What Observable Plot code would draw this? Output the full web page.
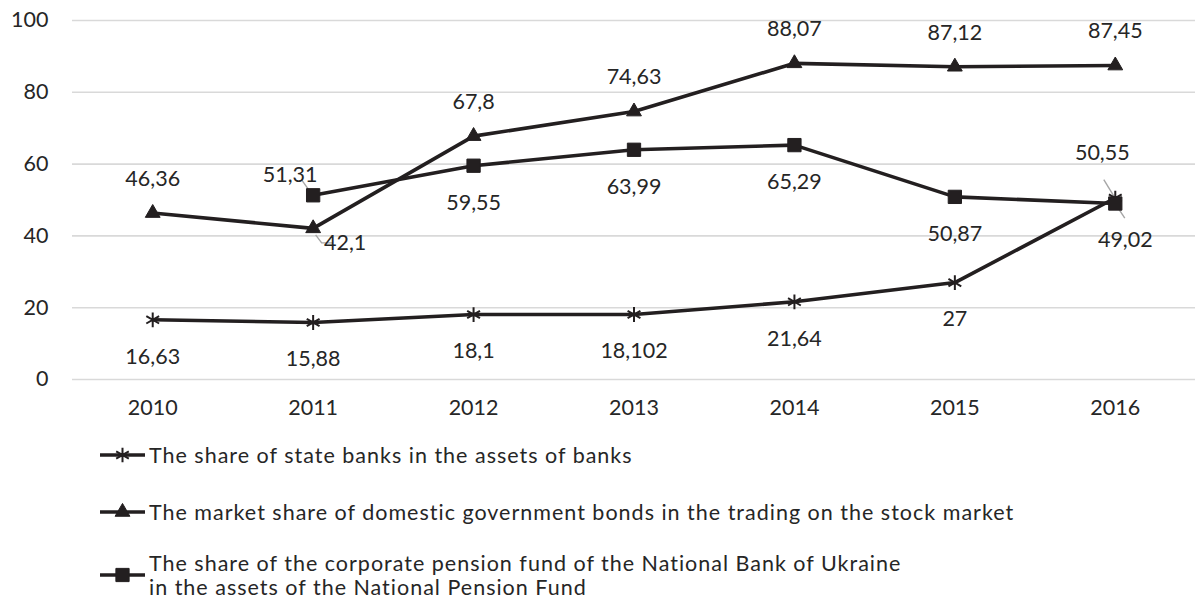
<!DOCTYPE html>
<html>
<head>
<meta charset="utf-8">
<script src="https://cdn.jsdelivr.net/npm/d3@7"></script>
<script src="https://cdn.jsdelivr.net/npm/@observablehq/plot@0.6"></script>
<style>
  body { margin: 0; background: #fff; font-family: Lato, "Open Sans", sans-serif; color: #262626; }
  #wrap { position: relative; width: 1195px; height: 601px; }
  #legend { position: absolute; left: 0; top: 430px; width: 1195px; height: 171px; }
  .item { position: absolute; left: 100px; display: flex; align-items: center; transform: translateY(-50%); font-size: 21.5px; line-height: 24px; letter-spacing: 1px; white-space: nowrap; }
  .item svg { flex: none; margin-right: 2px; }
</style>
</head>
<body>
<div id="wrap">
  <div id="chart"></div>
  <div id="legend"></div>
</div>
<script>
// ---- data ----
const years = [2010, 2011, 2012, 2013, 2014, 2015, 2016];
const stateBanks = [16.63, 15.88, 18.1, 18.102, 21.64, 27, 50.55];
const govBonds = [46.36, 42.1, 67.8, 74.63, 88.07, 87.12, 87.45];
const pensionFund = [null, 51.31, 59.55, 63.99, 65.29, 50.87, 49.02];
const yTicks = [0, 20, 40, 60, 80, 100];
const seriesNames = [
  "The share of state banks in the assets of banks",
  "The market share of domestic government bonds in the trading on the stock market",
  "The share of the corporate pension fund of the National Bank of Ukraine\nin the assets of the National Pension Fund"
];
const seriesKeys = ["stars", "tri", "sq"];
const seriesValues = [stateBanks, govBonds, pensionFund];

// ---- build table ----
const rows = [];
seriesKeys.forEach((k, i) => {
  years.forEach((yr, j) => {
    const v = seriesValues[i][j];
    if (v != null) rows.push({series: k, year: yr, value: v, label: String(v).replace(".", ",")});
  });
});

// label placement (pixel offsets, layout only)
const defaultOffset = {stars: [0, 37], tri: [0, -34], sq: [0, 37]};
const specialOffset = {"stars-2016": [-13, -45], "tri-2011": [32, 15], "sq-2011": [-23, -20], "sq-2016": [10, 37]};
rows.forEach(d => {
  const o = specialOffset[d.series + "-" + d.year] || defaultOffset[d.series];
  d.dx = o[0]; d.dy = o[1];
});
const groups = d3.groups(rows, d => d.dx + "," + d.dy);

// leader lines (pixel offsets relative to the point)
const leaders = [
  {series: "sq", year: 2011, pts: [[-11, -15], [-1, -1]]},
  {series: "tri", year: 2011, pts: [[3, 7], [9, 15], [20, 15]]},
  {series: "stars", year: 2016, pts: [[-11, -18], [0, 0]]},
  {series: "sq", year: 2016, pts: [[0, 0], [10, 15]]}
];
leaders.forEach(L => { L.value = rows.find(d => d.series === L.series && d.year === L.year).value; });

const ink = "#231f20";

const leaderMark = (index, scales) => {
  const g = d3.create("svg:g");
  for (const L of leaders) {
    const px = scales.x(L.year), py = scales.y(L.value);
    g.append("path")
      .attr("d", d3.line()(L.pts.map(([a, b]) => [px + a, py + b])))
      .attr("fill", "none")
      .attr("stroke", "#a6a6a6")
      .attr("stroke-width", 1.4);
  }
  return g.node();
};

const chart = Plot.plot({
  width: 1195,
  height: 430,
  marginLeft: 72,
  marginRight: 0,
  marginTop: 20,
  marginBottom: 51,
  style: {fontFamily: "Lato, 'Open Sans', sans-serif", fontSize: "21.5px", color: "#262626", background: "#fff"},
  x: {domain: [2009.5, 2016.5]},
  y: {domain: [0, 100]},
  marks: [
    Plot.gridY(yTicks, {stroke: "#d9d9d9", strokeOpacity: 1, strokeWidth: 1.6}),
    Plot.axisY(yTicks, {tickSize: 0, tickPadding: 24, label: null, fill: "#262626"}),
    Plot.axisX(years, {tickSize: 0, tickPadding: 20, tickFormat: d => String(d), label: null, fill: "#262626"}),
    leaderMark,
    Plot.line(rows, {x: "year", y: "value", z: "series", stroke: ink, strokeWidth: 3.6, curve: "linear"}),
    Plot.dot(rows.filter(d => d.series === "stars"), {x: "year", y: "value", symbol: "asterisk", r: 7, stroke: ink, strokeWidth: 2, fill: "none"}),
    Plot.dot(rows.filter(d => d.series === "tri"), {x: "year", y: "value", symbol: "triangle", r: 5.5, fill: ink, stroke: ink, strokeWidth: 1}),
    Plot.dot(rows.filter(d => d.series === "sq"), {x: "year", y: "value", symbol: "square", r: 7.5, fill: ink, stroke: ink, strokeWidth: 1}),
    ...groups.map(([, g]) => Plot.text(g, {x: "year", y: "value", text: "label", dx: g[0].dx, dy: g[0].dy, fill: "#262626", fontSize: 21.5, lineAnchor: "middle", textAnchor: "middle"}))
  ]
});
document.getElementById("chart").appendChild(chart);

// ---- legend ----
const legend = d3.select("#legend");
const legendTops = [25, 82, 145];
const symbols = [d3.symbolAsterisk, d3.symbolTriangle, d3.symbolSquare];
const symbolSizes = [150, 95, 175];
seriesNames.forEach((name, i) => {
  const item = legend.append("div").attr("class", "item").style("top", legendTops[i] + "px");
  const svg = item.append("svg").attr("width", 47).attr("height", 20);
  svg.append("line").attr("x1", 0).attr("x2", 45).attr("y1", 10).attr("y2", 10).attr("stroke", ink).attr("stroke-width", 3.6);
  svg.append("path").attr("transform", "translate(22.5,10)")
    .attr("d", d3.symbol(symbols[i], symbolSizes[i])())
    .attr("fill", i === 0 ? "none" : ink).attr("stroke", ink).attr("stroke-width", i === 0 ? 2 : 1);
  const t = item.append("div");
  name.split("\n").forEach(line => t.append("div").text(line));
});
</script>
</body>
</html>
